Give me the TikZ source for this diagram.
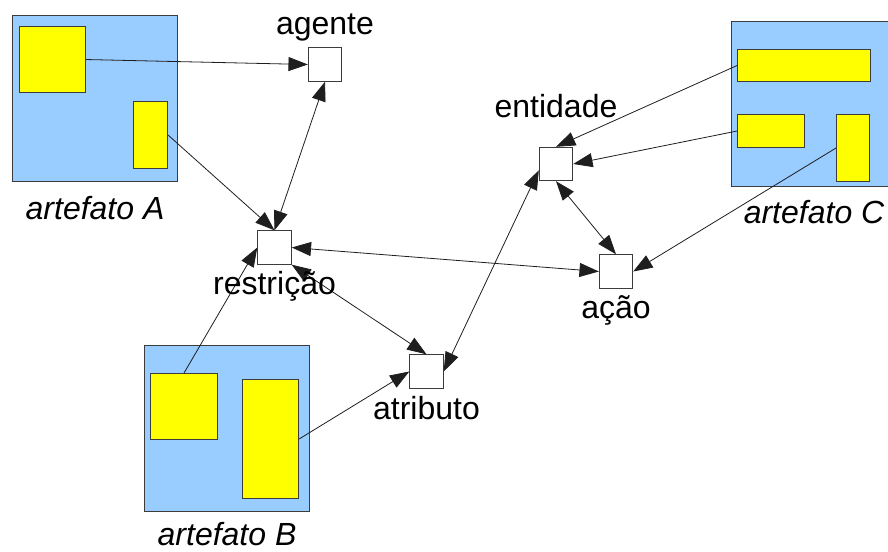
\documentclass[tikz,border=0pt]{standalone}
\usepackage{fontspec}
\setmainfont{Liberation Sans}
\usetikzlibrary{arrows.meta,positioning}

\definecolor{azulart}{RGB}{153,204,255}
\definecolor{amarelo}{RGB}{255,255,0}
\definecolor{contorno}{RGB}{60,60,60}

\tikzset{every picture/.style={line width=0.55pt}}
\tikzset{
  artefato/.style={draw=contorno, fill=azulart, line width=0.8pt, inner sep=0pt, anchor=north west},
  parte/.style={draw=contorno, fill=amarelo, line width=0.8pt, inner sep=0pt, anchor=north west},
  conceito/.style={draw=contorno, fill=white, line width=0.8pt, inner sep=0pt, minimum size=25pt},
  rotulo/.style={inner sep=0pt, font=\fontsize{24}{28}\selectfont, text height=17pt, text depth=5pt},
  rotuloart/.style={rotulo, font=\fontsize{24}{28}\selectfont\itshape},
  liga/.style={draw={rgb,255:red,30;green,30;blue,30}, line width=0.6pt, -{Triangle[length=14.5pt,width=10.5pt]}},
  liga2/.style={liga, {Triangle[length=14.5pt,width=10.5pt]}-{Triangle[length=14.5pt,width=10.5pt]}}
}

\begin{document}
\begin{tikzpicture}[x=0.75pt,y=0.75pt,yscale=-1,xscale=1]
            \useasboundingbox (0,0) rectangle (888,552);

            % Artefato A
            \node [artefato, minimum width=123.75pt, minimum height=124.5pt] (artA) at (12,15) {};
            \node [parte, minimum width=49.5pt, minimum height=49.5pt] (a1) at (19,26) {};
            \node [parte, minimum width=25.5pt, minimum height=50.25pt] (a2) at (133,101) {};
            % Artefato B
            \node [artefato, minimum width=123.75pt, minimum height=124.5pt] (artB) at (144,345) {};
            \node [parte, minimum width=50.25pt, minimum height=49.5pt] (b1) at (150,373) {};
            \node [parte, minimum width=42pt, minimum height=89.25pt] (b2) at (242,379) {};
            % Artefato C
            \node [artefato, minimum width=123.75pt, minimum height=123.75pt] (artC) at (731,21) {};
            \node [parte, minimum width=99.75pt, minimum height=24pt] (c1) at (737,49) {};
            \node [parte, minimum width=50.25pt, minimum height=24.75pt] (c2) at (737,114) {};
            \node [parte, minimum width=24.75pt, minimum height=50.25pt] (c3) at (836,114) {};

            % Conceitos
            \node [conceito] (agente) at (325,64.5) {};
            \node [conceito] (restricao) at (274.5,247.5) {};
            \node [conceito] (atributo) at (426.5,371.5) {};
            \node [conceito] (entidade) at (556,164) {};
            \node [conceito] (acao) at (616,271.5) {};

            % Ligacoes
            \draw [liga] (a1.east) -- (agente.west);
            \draw [liga] (a2.east) -- (restricao.north);
            \draw [liga2] (agente.south) -- (restricao.north);
            \draw [liga] (b1.north) -- (restricao.west);
            \draw [liga2] (restricao.east) -- (acao.west);
            \draw [liga2] (restricao.south east) -- (atributo.north);
            \draw [liga] (b2.east) -- (atributo.west);
            \draw [liga2] (atributo.east) -- (entidade.200);
            \draw [liga] (c1.west) -- (entidade.north);
            \draw [liga] (c2.west) -- (entidade.east);
            \draw [liga] (c3.west) -- (acao.east);
            \draw [liga2] (entidade.south) -- (acao.north);

            % Text Node
            \node [rotulo, above=4pt of agente] (lagente) {agente};
            \node [rotulo, above=16.5pt of entidade] (lentidade) {entidade};
            \node [rotulo, below=4.7pt of restricao] (lrestricao) {restrição};
            \node [rotulo, below=4.7pt of acao] (lacao) {ação};
            \node [rotulo, below=5.5pt of atributo] (latributo) {atributo};
            \node [rotuloart, below=10.7pt of artA] (lartA) {artefato A};
            \node [rotuloart, below=8pt of artB] (lartB) {artefato B};
            \node [rotuloart, below=10pt of artC] (lartC) {artefato C};
\end{tikzpicture}
\end{document}
